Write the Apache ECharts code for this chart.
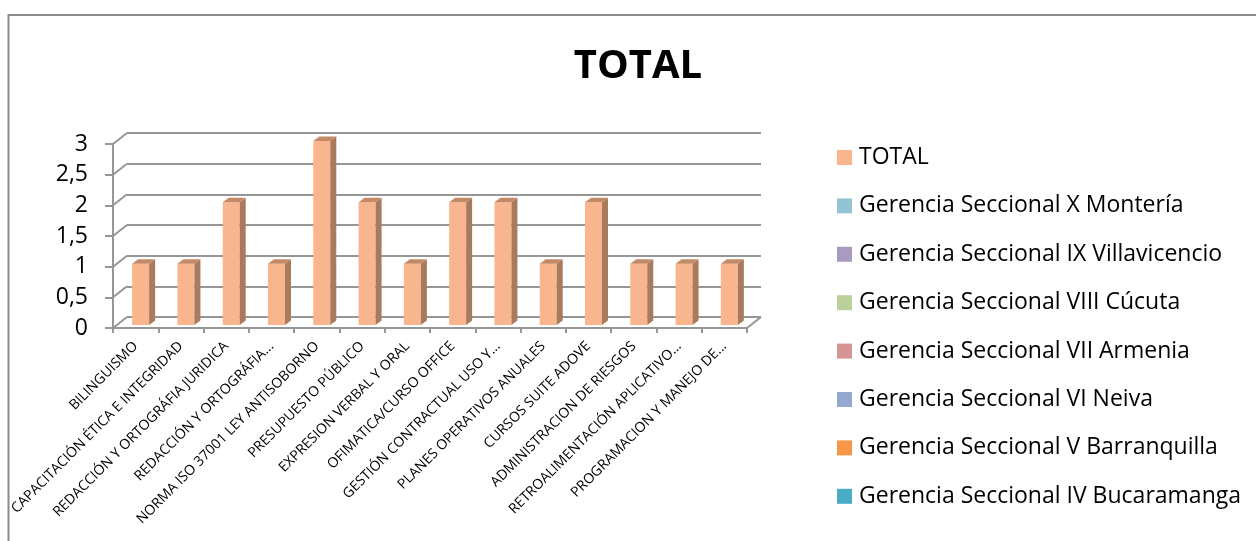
<!DOCTYPE html>
<html>
<head>
<meta charset="utf-8">
<script src="https://cdn.jsdelivr.net/npm/echarts@6/dist/echarts.min.js"></script>
<style>
  html, body { margin: 0; padding: 0; background: #fff; }
  #main { width: 1256px; height: 541px; }
</style>
</head>
<body>
<div id="main"></div>
<script>
// datos del gráfico
var categorias = ['BILINGUISMO', 'CAPACITACIÓN ÉTICA E INTEGRIDAD', 'REDACCIÓN Y ORTOGRÁFIA JURIDICA',
    'REDACCIÓN Y ORTOGRÁFIA...', 'NORMA ISO 37001 LEY ANTISOBORNO', 'PRESUPUESTO PÚBLICO',
    'EXPRESION VERBAL Y ORAL', 'OFIMATICA/CURSO OFFICE', 'GESTIÓN CONTRACTUAL USO Y...',
    'PLANES OPERATIVOS ANUALES', 'CURSOS SUITE ADOVE', 'ADMINISTRACION DE RIESGOS',
    'RETROALIMENTACIÓN APLICATIVO...', 'PROGRAMACION Y MANEJO DE...'];
var total = [1, 1, 2, 1, 3, 2, 1, 2, 2, 1, 2, 1, 1, 1];
var seriesNames = ['TOTAL', 'Gerencia Seccional X Montería', 'Gerencia Seccional IX Villavicencio',
    'Gerencia Seccional VIII Cúcuta', 'Gerencia Seccional VII Armenia', 'Gerencia Seccional VI Neiva',
    'Gerencia Seccional V Barranquilla', 'Gerencia Seccional IV Bucaramanga'];
var seriesColors = ['#F9B58E', '#93C4D4', '#A99BC0', '#BCD09A', '#D49594', '#95A9D0', '#F79646', '#4BACC6'];
var yTicks = [0, 0.5, 1, 1.5, 2, 2.5, 3];

var myChart = echarts.init(document.getElementById('main'));

var FONT = '"Open Sans", sans-serif';
var DX = 14, DY = -11;   // profundidad de la pared del fondo

// barra "3D"
function renderBar(params, api) {
    var idx = api.value(0), v = api.value(1);
    var base = api.coord([idx, 0]);
    var top = api.coord([idx, v]);
    var w = 17, sx = 5, sy = -3, dx = 6, dy = -4.5;
    var x0 = base[0] + sx - w / 2, x1 = x0 + w;
    var yb = base[1] + sy, yt = top[1] + sy;
    return {
        type: 'group',
        children: [
            { type: 'rect', shape: { x: x0, y: yt, width: w, height: yb - yt }, style: { fill: '#F9B58E' } },
            { type: 'polygon', shape: { points: [[x1, yb], [x1, yt], [x1 + dx, yt + dy], [x1 + dx, yb + dy]] }, style: { fill: '#A97A5C' } },
            { type: 'polygon', shape: { points: [[x0, yt], [x1, yt], [x1 + dx, yt + dy], [x0 + dx, yt + dy]] }, style: { fill: '#C48A66' } }
        ]
    };
}

// diagonales que unen el eje frontal con la pared del fondo
function renderDiag(params, api) {
    var v = api.value(0);
    var band = api.size([1, 0])[0];
    var p = api.coord([0, v]);
    var left = p[0] - band / 2;
    var lines = [{ type: 'line', shape: { x1: left, y1: p[1], x2: left + DX, y2: p[1] + DY },
        style: { stroke: '#969696', lineWidth: 2 } }];
    if (v === 0) {
        var right = left + band * categorias.length;
        lines.push({ type: 'line', shape: { x1: right, y1: p[1], x2: right + DX, y2: p[1] + DY },
            style: { stroke: '#969696', lineWidth: 2 } });
    }
    return { type: 'group', children: lines };
}

var series = [{
    name: seriesNames[0],
    type: 'custom',
    xAxisIndex: 0, yAxisIndex: 0,
    renderItem: renderBar,
    itemStyle: { color: seriesColors[0] },
    encode: { x: 0, y: 1 },
    data: total.map(function (v, i) { return [i, v]; }),
    z: 5
}];
for (var i = 1; i < seriesNames.length; i++) {
    series.push({
        name: seriesNames[i],
        type: 'custom',
        xAxisIndex: 0, yAxisIndex: 0,
        renderItem: renderBar,
        itemStyle: { color: seriesColors[i] },
        data: []
    });
}
series.push({
    type: 'custom',
    xAxisIndex: 0, yAxisIndex: 0,
    renderItem: renderDiag,
    encode: { y: 0 },
    data: yTicks.map(function (v) { return [v]; }),
    silent: true,
    z: 1
});

var option = {
    animation: false,
    textStyle: { fontFamily: FONT },
    title: {
        text: 'TOTAL',
        left: 638,
        top: 47,
        padding: 0,
        textAlign: 'center',
        textStyle: { fontFamily: FONT, fontSize: 40, fontWeight: 'bold', color: '#000' }
    },
    legend: {
        orient: 'vertical',
        left: 837,
        top: 146,
        padding: 0,
        icon: 'rect',
        itemWidth: 15,
        itemHeight: 15,
        itemGap: 25.4,
        data: seriesNames,
        textStyle: { fontFamily: FONT, fontSize: 23, lineHeight: 23, color: '#000', padding: [0, 0, 0, 2] }
    },
    graphic: [{
        type: 'rect',
        shape: { x: 8.5, y: 15, width: 1300, height: 600 },
        style: { fill: 'none', stroke: '#8C8C8C', lineWidth: 2 },
        z: 0
    }],
    grid: [
        { left: 113, right: 509, top: 144, bottom: 213, outerBoundsMode: 'none', containLabel: false },
        { left: 127, right: 495, top: 133, bottom: 224, outerBoundsMode: 'none', containLabel: false }
    ],
    xAxis: [{
        type: 'category',
        gridIndex: 0,
        data: categorias,
        axisLine: { lineStyle: { color: '#969696', width: 2 } },
        axisTick: { show: true, length: 5, interval: 0, lineStyle: { color: '#969696', width: 2 } },
        axisLabel: { interval: 0, rotate: 45, margin: 16, fontSize: 14, color: '#000', fontFamily: FONT, hideOverlap: false }
    }, {
        type: 'category',
        gridIndex: 1,
        data: categorias,
        show: false
    }],
    yAxis: [{
        type: 'value',
        gridIndex: 0,
        min: 0, max: 3, interval: 0.5,
        axisLine: { show: true, lineStyle: { color: '#969696', width: 2 } },
        axisTick: { show: true, length: 8, lineStyle: { color: '#969696', width: 2 } },
        splitLine: { show: false },
        axisLabel: {
            margin: 25, fontSize: 23, color: '#000', fontFamily: FONT,
            formatter: function (v) { return String(v).replace('.', ','); }
        }
    }, {
        type: 'value',
        gridIndex: 1,
        min: 0, max: 3, interval: 0.5,
        axisLine: { show: false },
        axisTick: { show: false },
        axisLabel: { show: false },
        splitLine: { show: true, lineStyle: { color: '#969696', width: 2 } }
    }],
    series: series
};

myChart.setOption(option);
</script>
</body>
</html>
